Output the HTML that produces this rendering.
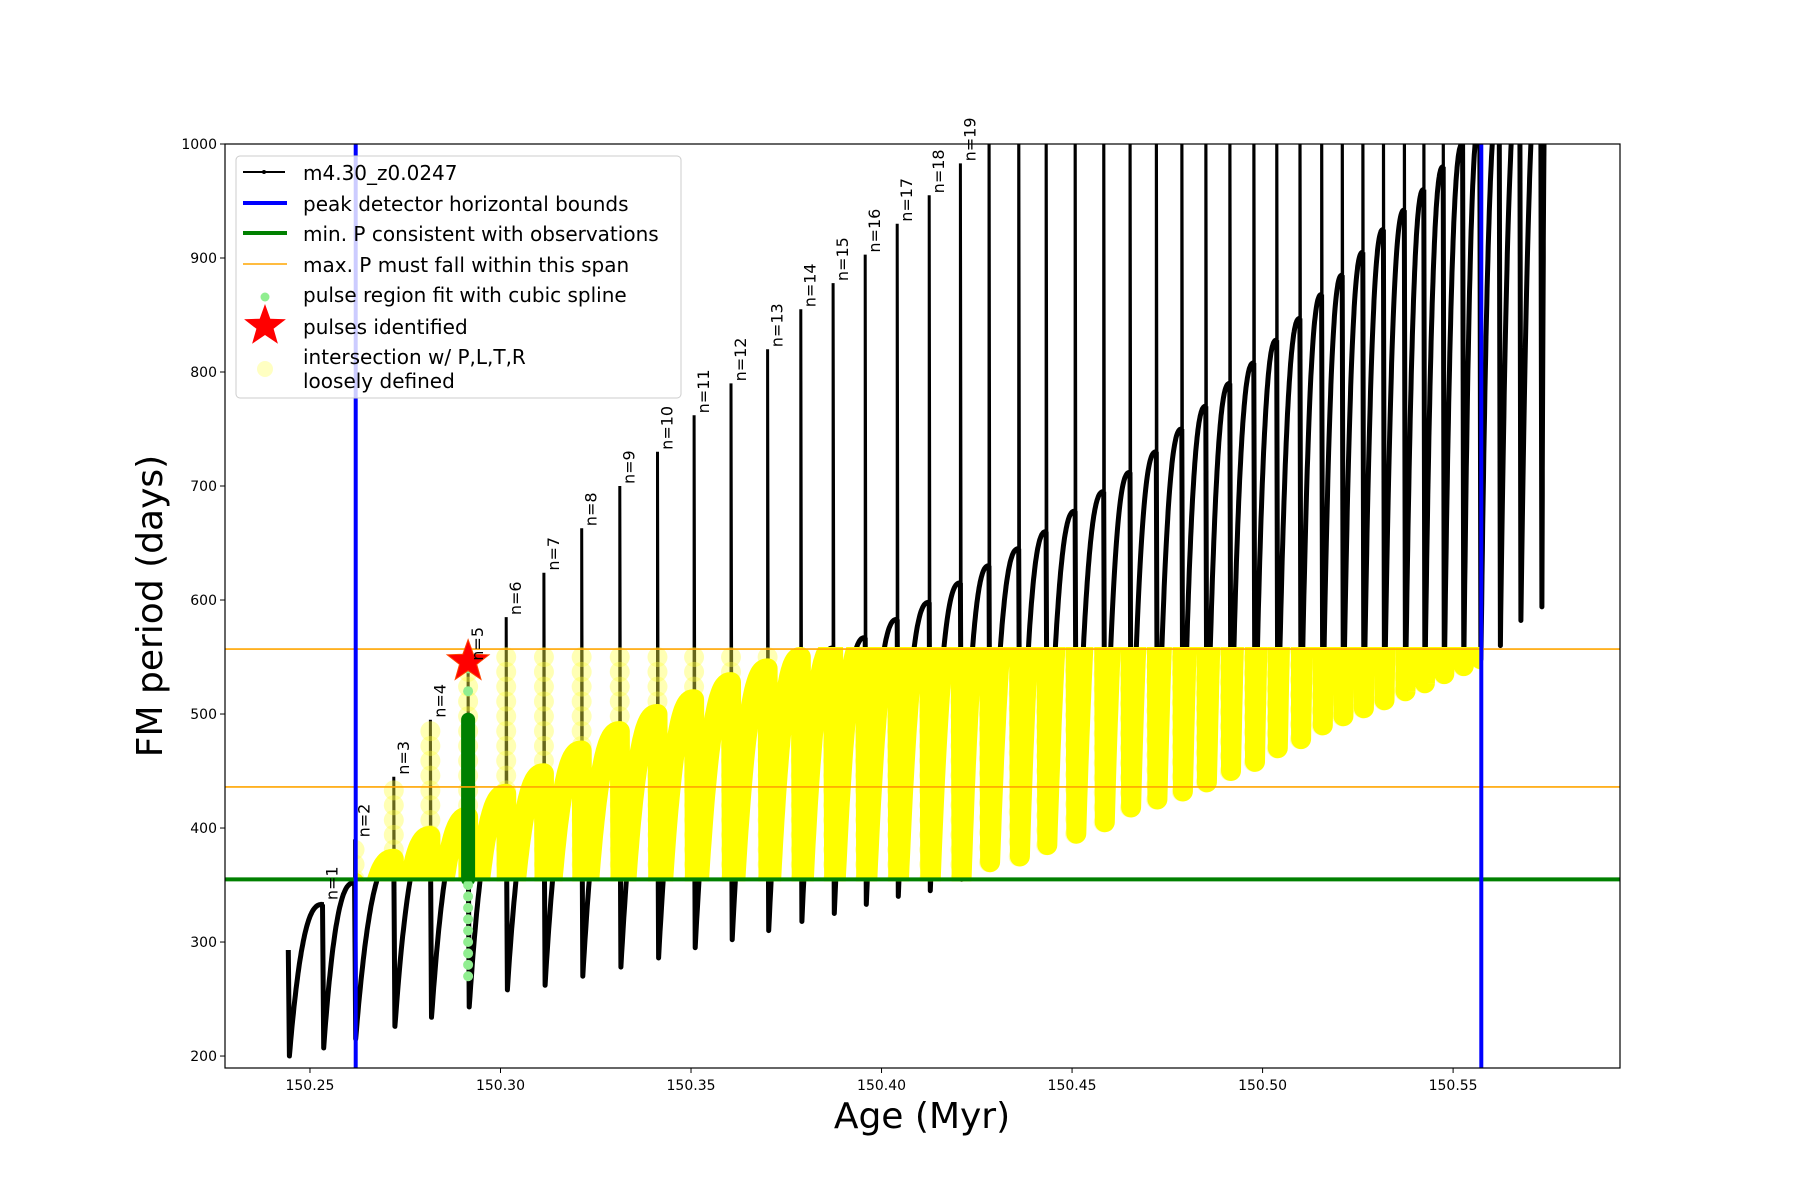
<!DOCTYPE html>
<html><head><meta charset="utf-8"><style>
html,body{margin:0;padding:0;background:#fff;}
svg{display:block;font-family:"DejaVu Sans","Liberation Sans",sans-serif;}
</style></head><body>
<svg id="chart" width="1800" height="1200" viewBox="0 0 1800 1200" xmlns="http://www.w3.org/2000/svg">
<defs><clipPath id="axclip"><rect x="225" y="144" width="1395" height="924"/></clipPath>
<clipPath id="yclip"><rect id="yclipRect" x="0" y="0" width="0" height="0"/></clipPath></defs>
<rect x="0" y="0" width="1800" height="1200" fill="#fff"/>
<g id="plot" clip-path="url(#axclip)"></g>
<rect x="225" y="144" width="1395" height="924" fill="none" stroke="#000" stroke-width="1.2"/>
<g id="ticks"></g>
<text x="922" y="1128" font-size="36" text-anchor="middle">Age (Myr)</text>
<text x="162" y="606" font-size="36" text-anchor="middle" transform="rotate(-90 162 606)">FM period (days)</text>
<g id="legend">
<rect x="236" y="156" width="445" height="242" rx="4" fill="#fff" fill-opacity="0.8" stroke="#ccc" stroke-width="1"/>
<g><line x1="243" y1="172" x2="285" y2="172" stroke="#000" stroke-width="2"/><circle cx="264" cy="172" r="2" fill="#000"/><text x="303" y="180" font-size="20">m4.30_z0.0247</text></g>
<g><line x1="243" y1="203" x2="287" y2="203" stroke="#0000ff" stroke-width="4"/><text x="303" y="211" font-size="20">peak detector horizontal bounds</text></g>
<g><line x1="243" y1="233" x2="287" y2="233" stroke="#008000" stroke-width="4"/><text x="303" y="241" font-size="20">min. P consistent with observations</text></g>
<g><line x1="243" y1="264" x2="287" y2="264" stroke="#ffa500" stroke-width="1.5"/><text x="303" y="272" font-size="20">max. P must fall within this span</text></g>
<g><circle cx="265" cy="297" r="4.5" fill="#90ee90"/><text x="303" y="302" font-size="20">pulse region fit with cubic spline</text></g>
<g><polygon id="legstar" fill="#ff0000"/><text x="303" y="334" font-size="20">pulses identified</text></g>
<g><circle cx="265" cy="369" r="8" fill="#ffff99" fill-opacity="0.6"/><text x="303" y="364" font-size="20">intersection w/ P,L,T,R</text><text x="303" y="388" font-size="20">loosely defined</text></g>
</g>
</svg>
<script>
const pulseAges=[150.2443,150.2533,150.2617,150.2720,150.2816,150.2915,150.3015,150.3114,150.3213,150.3313,150.3412,150.3508,150.3605,150.3701,150.3788,150.3873,150.3957,150.4041,150.4125,150.4207,150.4282,150.4360,150.4432,150.4508,150.4583,150.4652,150.4721,150.4788,150.4851,150.4914,150.4977,150.5037,150.5098,150.5155,150.5209,150.5263,150.5317,150.5372,150.5423,150.5474,150.5525,150.5570,150.5621,150.5675,150.5730];
const pulsePeaks=[293,335,390,445,495,545,585,624,663,700,730,762,790,820,855,878,903,930,955,983,1100,1100,1100,1100,1100,1100,1100,1100,1100,1100,1100,1100,1100,1100,1100,1100,1100,1100,1100,1100,1100,1100,1100,1100,1100];
const pulseMins=[200,207,215,226,234,243,258,262,270,278,286,295,302,310,318,325,333,340,345,355,370,375,385,395,405,418,425,432,440,450,458,470,478,490,498,505,512,520,527,535,542,548,560,582,594];
const preMax=[293,333,352,373,393,410,430,448,468,485,500,513,528,540,550,558,567,583,598,615,630,645,660,678,695,712,730,750,770,790,808,828,847,868,885,905,925,942,960,980,1000,1020,1040,1060,1080];
const endAge=150.5745, endValue=1100;
const xTicks=[150.25,150.30,150.35,150.40,150.45,150.50,150.55];
const xTickLabels=["150.25","150.30","150.35","150.40","150.45","150.50","150.55"];
const yTicks=[200,300,400,500,600,700,800,900,1000];
const boundsAge=[150.2620,150.5574];
const minP=355, maxPSpan=[436,557];
const starAge=150.2915, starP=546;
const splineP=[270,280,290,300,310,320,330,340,350,520,540];
const greenSpan=[355,495];

const X0=225,X1=1620,Y0=144,Y1=1068,AMIN=150.2277,AMAX=150.5938,PMIN=189.5,PMAX=1000;
const xs=a=>X0+(a-AMIN)/(AMAX-AMIN)*(X1-X0);
const ys=p=>Y1-(p-PMIN)/(PMAX-PMIN)*(Y1-Y0);
const NS='http://www.w3.org/2000/svg';
const plot=document.getElementById('plot');
function mk(tag,attrs,parent){const e=document.createElementNS(NS,tag);for(const k in attrs)e.setAttribute(k,attrs[k]);(parent||plot).appendChild(e);return e;}
const P=(a,v)=>xs(a).toFixed(1)+' '+ys(v).toFixed(1);

let spikeD='',humpD='';
for(let i=0;i<pulseAges.length;i++){
  const a=pulseAges[i];
  spikeD+='M'+P(a,preMax[i])+' L'+P(a,pulsePeaks[i])+' L'+P(a+0.0003,pulseMins[i])+' ';
  const na=(i+1<pulseAges.length)?pulseAges[i+1]:endAge;
  const nv=(i+1<pulseAges.length)?preMax[i+1]:endValue;
  const a0=a+0.0003,N=50;
  humpD+='M'+P(a,preMax[i])+' L'+P(a0,pulseMins[i]);
  for(let k=1;k<=N;k++){const t=k/N;const s=1-Math.pow(1-t,2.6);humpD+=' L'+P(a0+(na-a0)*t,pulseMins[i]+(nv-pulseMins[i])*s);}
  humpD+=' ';
}
const sp=mk('path',{d:spikeD,fill:'none',stroke:'#000','stroke-width':3});


const hp=mk('path',{d:humpD,fill:'none',stroke:'#000','stroke-width':5,'stroke-linejoin':'round'});



const yc=document.getElementById('yclipRect');
yc.setAttribute('x',xs(boundsAge[0]));yc.setAttribute('width',xs(boundsAge[1])-xs(boundsAge[0]));
yc.setAttribute('y',ys(maxPSpan[1])-2);yc.setAttribute('height',ys(minP)-ys(maxPSpan[1])+4);
const cg=mk('g',{'clip-path':'url(#yclip)'});
for(let i=0;i<pulseAges.length;i++){
  const a=pulseAges[i];
  const lo=Math.max(minP,pulseMins[i]),hi=Math.min(maxPSpan[1],pulsePeaks[i]);
  for(let v=lo;v<=hi;v+=13){
    const c=mk('circle',{cx:xs(a),cy:ys(v),r:10,fill:'#ffff44','fill-opacity':0.4},cg);
    
    
  }
}
const yl=mk('path',{d:humpD,fill:'none',stroke:'#ffff00','stroke-width':20,'stroke-linejoin':'round','stroke-linecap':'round','clip-path':'url(#yclip)'});



const gr=mk('line',{x1:xs(starAge),x2:xs(starAge),y1:ys(greenSpan[0]),y2:ys(greenSpan[1]),stroke:'#008000','stroke-width':14,'stroke-linecap':'round'});


splineP.forEach(p=>{const c=mk('circle',{cx:xs(starAge),cy:ys(p),r:5,fill:'#90ee90'});

});

const g1=mk('line',{x1:X0,x2:X1,y1:ys(minP),y2:ys(minP),stroke:'#008000','stroke-width':4});


maxPSpan.forEach(p=>{const l=mk('line',{x1:X0,x2:X1,y1:ys(p),y2:ys(p),stroke:'#ffa500','stroke-width':1.6});

});
boundsAge.forEach(a=>{const l=mk('line',{x1:xs(a),x2:xs(a),y1:Y0,y2:Y1,stroke:'#0000ff','stroke-width':4});

});

function starPts(cx,cy,R,r){let s=[];for(let k=0;k<10;k++){const ang=-Math.PI/2+k*Math.PI/5;const rr=k%2?r:R;s.push((cx+rr*Math.cos(ang)).toFixed(1)+','+(cy+rr*Math.sin(ang)).toFixed(1));}return s.join(' ');}
const st=mk('polygon',{points:starPts(xs(starAge),ys(starP),22,9),fill:'#ff0000',stroke:'#ff4500','stroke-width':1});


document.getElementById('legstar').setAttribute('points',starPts(265,326,22,9));

for(let i=1;i<=19;i++){
  const x=xs(pulseAges[i])+15,y=ys(pulsePeaks[i])-2;
  const t=mk('text',{x:x,y:y,'font-size':16,transform:'rotate(-90 '+x+' '+y+')'},document.getElementById('chart'));
  t.textContent='n='+i;
  
  
}

const tg=document.getElementById('ticks');
xTicks.forEach((v,i)=>{const x=xs(v);mk('line',{x1:x,x2:x,y1:Y1,y2:Y1+5,stroke:'#000'},tg);
const t=mk('text',{x:x,y:Y1+22,'font-size':14,'text-anchor':'middle'},tg);t.textContent=xTickLabels[i];

});
yTicks.forEach(v=>{const y=ys(v);mk('line',{x1:X0-5,x2:X0,y1:y,y2:y,stroke:'#000'},tg);
const t=mk('text',{x:X0-8,y:y+5,'font-size':14,'text-anchor':'end'},tg);t.textContent=v;

});
</script>
</body></html>
